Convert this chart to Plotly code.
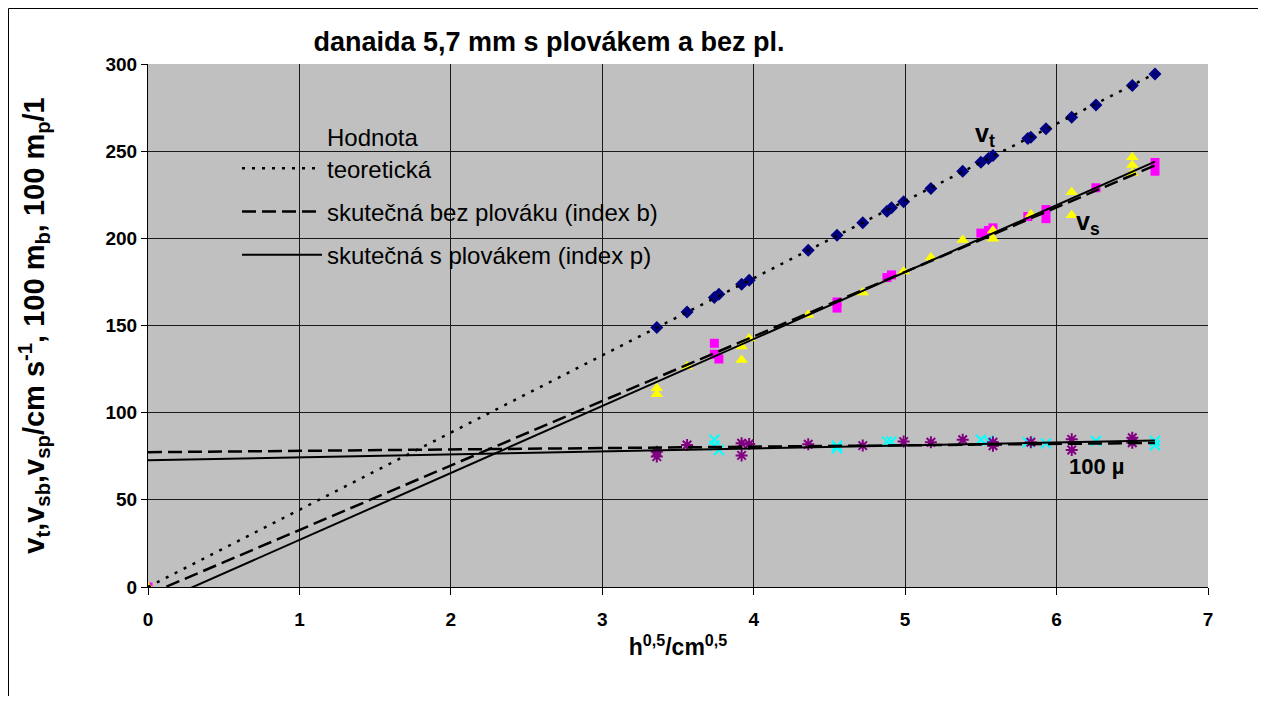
import plotly.graph_objects as go

FONT = "Liberation Sans, Arial, sans-serif"

title_text = "danaida 5,7 mm s plovákem a bez pl."
x_title = "h<sup>0,5</sup>/cm<sup>0,5</sup>"
y_title = ("v<sub>t</sub>,v<sub>sb</sub>,v<sub>sp</sub>/cm s<sup>-1</sup>, "
           "100 m<sub>b</sub>, 100 m<sub>p</sub>/1")

x_ticks = [0, 1, 2, 3, 4, 5, 6, 7]
y_ticks = [0, 50, 100, 150, 200, 250, 300]

# theoretical velocity v_t (navy diamonds)
x_t = [3.36, 3.56, 3.74, 3.77, 3.92, 3.97, 4.36, 4.55, 4.72, 4.88, 4.91, 4.99,
       5.17, 5.38, 5.50, 5.55, 5.58, 5.81, 5.83, 5.93, 6.10, 6.26, 6.50, 6.65]
v_t = [148.8, 157.7, 166.0, 167.9, 173.7, 176.0, 193.1, 201.7, 209.0, 215.6, 217.6, 221.0,
       228.6, 238.5, 243.7, 245.8, 247.5, 257.3, 258.0, 262.8, 269.5, 276.5, 287.6, 294.3]

# real velocity without float v_sb (magenta squares)
x_b = [0, 3.74, 3.74, 3.77, 4.55, 4.55, 4.88, 4.91, 5.50, 5.55, 5.58, 5.81,
       5.93, 5.93, 6.26, 6.65, 6.65]
v_sb = [0, 139.8, 133.5, 130.8, 163.5, 160.0, 177.5, 179.0, 203.0, 204.5, 206.0, 212.5,
        216.5, 211.3, 229.0, 243.5, 238.5]

# 100 * mu without float (cyan x)
x_mb = [3.74, 3.74, 3.77, 4.55, 4.55, 4.88, 4.91, 5.50, 5.55, 5.81, 5.93, 6.26, 6.65, 6.65]
m_b = [84.5, 81.0, 78.6, 81.1, 79.6, 83.4, 83.4, 84.5, 84.0, 83.0, 82.4, 83.7, 83.7, 81.3]

# real velocity with float v_sp (yellow triangles)
x_p = [0, 3.36, 3.36, 3.56, 3.92, 3.92, 3.97, 4.36, 4.72, 4.99, 5.17, 5.38,
       5.58, 5.58, 5.83, 6.10, 6.10, 6.50, 6.50, 6.50]
v_sp = [0, 114.0, 110.5, 126.5, 138.0, 130.2, 142.5, 156.0, 169.0, 181.0, 189.0, 199.0,
        204.5, 199.7, 213.7, 226.5, 213.3, 246.5, 242.0, 237.5]

# 100 * mu with float (purple asterisks)
x_mp = [3.36, 3.36, 3.56, 3.92, 3.92, 3.97, 4.36, 4.72, 4.99, 5.17, 5.38,
        5.58, 5.58, 5.83, 6.10, 6.10, 6.50, 6.50]
m_p = [77.6, 74.8, 81.5, 82.5, 75.5, 82.0, 81.9, 81.1, 83.4, 83.0, 84.5,
       83.0, 81.0, 83.0, 84.7, 78.6, 85.6, 82.7]

# trendlines (values read at both ends)
x_trend = [0, 6.65]
trend_vt = [0, 294.5]
trend_vsb = [-4.3, 241.8]
trend_vsp = [-11.4, 244.0]
trend_mb = [77.3, 82.6]
trend_mp = [72.7, 84.0]

leg_teor = "Hodnota<br>teoretická"
leg_b = "skutečná bez plováku (index b)"
leg_p = "skutečná s plovákem (index p)"

# figure geometry (page has an 8 px body margin)
W, H = 1250, 688
ML, MR, MT, MB = 140, 50, 56, 109
PW, PH = W - ML - MR, H - MT - MB

fig = go.Figure()

fig.add_trace(go.Scatter(x=x_t, y=v_t, mode="markers", showlegend=False,
                         marker=dict(symbol="diamond", size=10, color="#000080",
                                     line=dict(width=0))))
fig.add_trace(go.Scatter(x=x_b, y=v_sb, mode="markers", showlegend=False,
                         marker=dict(symbol="square", size=9, color="#FF00FF",
                                     line=dict(width=0))))
fig.add_trace(go.Scatter(x=x_p, y=v_sp, mode="markers", showlegend=False,
                         marker=dict(symbol="triangle-up", size=11, color="#FFFF00",
                                     line=dict(width=0))))
fig.add_trace(go.Scatter(x=x_mb, y=m_b, mode="markers", showlegend=False,
                         marker=dict(symbol="x-thin-open", size=10, color="#00FFFF",
                                     line=dict(width=2, color="#00FFFF"))))
fig.add_trace(go.Scatter(x=x_mp, y=m_p, mode="markers", showlegend=False,
                         marker=dict(symbol="asterisk-open", size=10, color="#800080",
                                     line=dict(width=2, color="#800080"))))

DOT = "3px,7px"
DASH = "14px,6px"
fig.add_trace(go.Scatter(x=x_trend, y=trend_vt, mode="lines", name=leg_teor,
                         legendgroup="a",
                         line=dict(color="black", width=2.5, dash=DOT)))
fig.add_trace(go.Scatter(x=x_trend, y=trend_vsb, mode="lines", name=leg_b,
                         legendgroup="b",
                         line=dict(color="black", width=2.5, dash=DASH)))
fig.add_trace(go.Scatter(x=x_trend, y=trend_vsp, mode="lines", name=leg_p,
                         legendgroup="c",
                         line=dict(color="black", width=2)))
fig.add_trace(go.Scatter(x=x_trend, y=trend_mb, mode="lines", showlegend=False,
                         line=dict(color="black", width=2.5, dash=DASH)))
fig.add_trace(go.Scatter(x=x_trend, y=trend_mp, mode="lines", showlegend=False,
                         line=dict(color="black", width=2)))

fig.add_annotation(x=5.53, y=259, text="<b>v<sub>t</sub></b>", showarrow=False,
                   font=dict(family=FONT, size=25, color="black"))
fig.add_annotation(x=6.21, y=209, text="<b>v<sub>s</sub></b>", showarrow=False,
                   font=dict(family=FONT, size=25, color="black"))
fig.add_annotation(x=6.27, y=69, text="<b>100 µ</b>", showarrow=False,
                   font=dict(family=FONT, size=22, color="black"))

# chart-area frame: left and top edges
fig.add_shape(type="line", xref="paper", yref="paper",
              x0=(0.5 - ML) / PW, x1=(0.5 - ML) / PW,
              y0=-MB / PH, y1=(PH + MT - 0.5) / PH,
              line=dict(color="black", width=1), layer="above")
fig.add_shape(type="line", xref="paper", yref="paper",
              x0=(0.5 - ML) / PW, x1=(W - ML) / PW,
              y0=(PH + MT - 0.5) / PH, y1=(PH + MT - 0.5) / PH,
              line=dict(color="black", width=1), layer="above")

fig.update_layout(
    width=W, height=H,
    margin=dict(l=ML, r=MR, t=MT, b=MB),
    paper_bgcolor="white", plot_bgcolor="#C0C0C0",
    font=dict(family=FONT, color="black"),
    title=dict(text="<b>" + title_text + "</b>", x=541 / W, xref="container",
               xanchor="center", y=1 - 34 / H, yref="container", yanchor="middle",
               font=dict(family=FONT, size=27, color="black")),
    legend=dict(x=(237 - 148) / PW, y=(587 - 115) / PH, xanchor="left", yanchor="top",
                bgcolor="rgba(0,0,0,0)", borderwidth=0, valign="bottom",
                traceorder="grouped", tracegroupgap=9, itemwidth=80,
                font=dict(family=FONT, size=24, color="black")),
)
fig.update_xaxes(range=[0, 7], tickvals=x_ticks, ticktext=[str(v) for v in x_ticks],
                 showgrid=True, gridcolor="#1a1a1a", gridwidth=1, zeroline=False,
                 showline=True, linecolor="black", linewidth=1,
                 ticks="outside", ticklen=7, tickcolor="black", ticklabelstandoff=8,
                 tickfont=dict(family=FONT, size=19, color="black", weight="bold"),
                 title=dict(text="<b>" + x_title + "</b>", standoff=10,
                            font=dict(family=FONT, size=23, color="black")))
fig.update_yaxes(range=[0, 300], tickvals=y_ticks, ticktext=[str(v) for v in y_ticks],
                 showgrid=True, gridcolor="#1a1a1a", gridwidth=1, zeroline=False,
                 showline=True, linecolor="black", linewidth=1,
                 ticks="outside", ticklen=6, tickcolor="black",
                 tickfont=dict(family=FONT, size=19, color="black", weight="bold"),
                 title=dict(text="<b>" + y_title + "</b>", standoff=52,
                            font=dict(family=FONT, size=29, color="black")))

fig.write_html("out.html")
